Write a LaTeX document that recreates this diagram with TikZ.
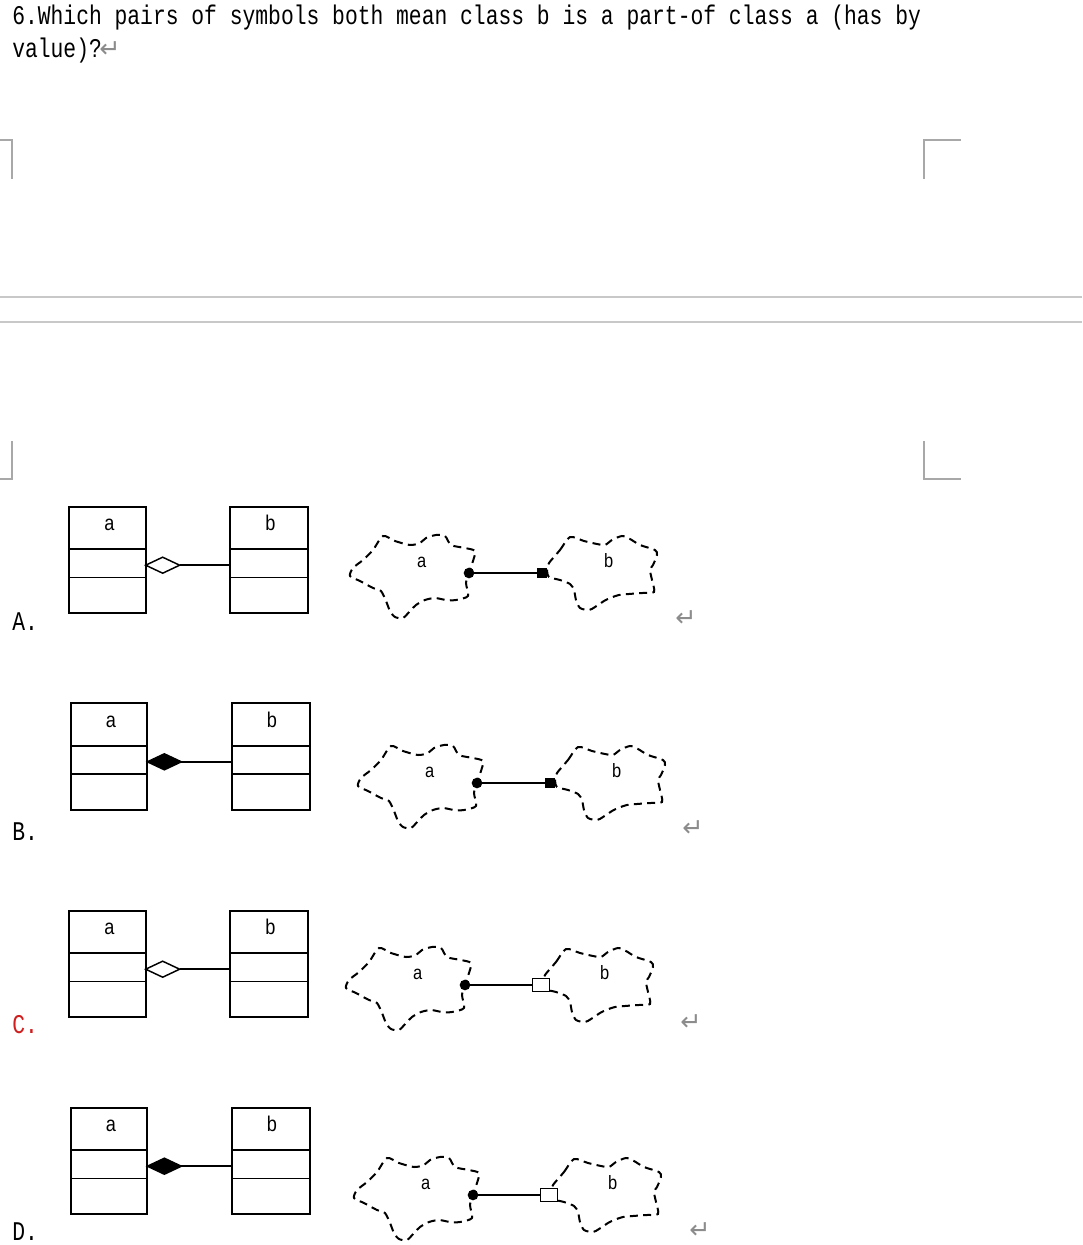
\documentclass[tikz,border=0pt]{standalone}
\usepackage{fontspec}
\usetikzlibrary{shapes.geometric,calc}
\newfontfamily\qfont[FakeStretch=0.79]{Liberation Mono}
\newfontfamily\lblfont[FakeStretch=0.85]{Liberation Sans}
\newfontfamily\symfont{DejaVu Sans}
\definecolor{retgray}{HTML}{8C8C8C}
\definecolor{rulegray}{HTML}{C8C8C8}
\definecolor{markgray}{HTML}{A8A8A8}
\definecolor{ansred}{HTML}{D01E1E}
\tikzset{
  qtext/.style={anchor=base west, inner sep=0, font=\qfont\fontsize{20.25pt}{24pt}\selectfont},
  ret/.style={inner sep=0, text=retgray, font=\symfont\fontsize{19pt}{21pt}\selectfont},
  classbox/.style={draw, line width=1.4pt, minimum width=57.5pt, minimum height=80pt, inner sep=0, outer sep=0, anchor=north west},
  classboxb/.style={classbox, minimum width=58.5pt},
  divider/.style={line width=1.4pt},
  clabel/.style={anchor=base, inner sep=0, font=\lblfont\fontsize{16pt}{18pt}\selectfont},
  cloudlbl/.style={anchor=base, inner sep=0, font=\lblfont\fontsize{14.5pt}{16pt}\selectfont},
  hdiam/.style={diamond, draw, fill=white, line width=1.1pt, minimum width=25.5pt, minimum height=12pt, inner sep=0, outer sep=0, anchor=west},
  fdiam/.style={hdiam, fill=black},
  conn/.style={line width=1.2pt},
  cloudline/.style={line width=1.5pt, dash pattern=on 6pt off 4pt},
  clouddot/.style={circle, fill=black, minimum size=8pt, inner sep=0, outer sep=0},
  fsq/.style={rectangle, fill=black, minimum width=8pt, minimum height=8pt, inner sep=0, outer sep=0, anchor=center},
  osq/.style={rectangle, draw, line width=1.2pt, fill=white, minimum width=12.5pt, minimum height=9.5pt, inner sep=0, outer sep=0, anchor=east},
  cornerline/.style={draw=markgray, line width=1.1pt},
  ruleline/.style={draw=rulegray, line width=1.1pt}
}
\newcommand{\classrow}[4]{%
  \node[classbox] (ca#1) at (#2,#3) {};
  \node[classboxb] (cb#1) at (#2+161.3,#3) {};
  \draw[divider] ($(ca#1.north west)+(0,42.6)$) -- ($(ca#1.north east)+(0,42.6)$);
  \draw[divider] ($(ca#1.north west)+(0,70.8)$) -- ($(ca#1.north east)+(0,70.8)$);
  \draw[divider] ($(cb#1.north west)+(0,42.6)$) -- ($(cb#1.north east)+(0,42.6)$);
  \draw[divider] ($(cb#1.north west)+(0,70.8)$) -- ($(cb#1.north east)+(0,70.8)$);
  \node[clabel] (la#1) at ($(ca#1.north)+(2,24)$) {a};
  \node[clabel] (lb#1) at ($(cb#1.north)+(1,24)$) {b};
  \node[#4] (dm#1) at ($(ca#1.north east)+(0,58.5)$) {};
  \draw[conn] (dm#1.east) -- (dm#1.east -| cb#1.west);
}
\newcommand{\cloudrow}[5]{%
  \begin{scope}[shift={(#2,#3)}]
    \draw[cloudline] plot[smooth cycle, tension=0.45] coordinates {
      (383,536) (395,541) (410,545) (420,543) (426,538) (436,535) (445,536)
      (451,545) (465,548) (475,551) (473,561) (469,573) (466,583) (468,596)
      (456,600) (446,600) (435,598) (425,600) (416,605) (410,611) (403,618)
      (395,617) (390,611) (386,601) (381,591) (373,588) (360,581) (350,576)
      (353,568) (363,560) (373,550)};
    \draw[cloudline] plot[smooth cycle, tension=0.45] coordinates {
      (549,563) (560,550) (570,537) (584,541) (597,544) (605,545) (612,540)
      (622,536) (630,539) (640,545) (655,550) (657,555) (653,565) (650,570)
      (652,580) (654,592) (642,593) (629,594) (619,595) (610,598) (604,601)
      (595,607) (589,610) (580,608) (576,600) (574,590) (570,584) (560,580)
      (549,577) (547,570)};
    \node[clouddot] (dot#1) at (469,573) {};
    \node[cloudlbl] (ta#1) at (421.7,567.3) {a};
    \node[cloudlbl] (tb#1) at (608.7,567.3) {b};
    \node[#4] (sq#1) at #5 {};
    \draw[conn] (dot#1) -- (sq#1.west);
  \end{scope}
}
\begin{document}
\begin{tikzpicture}[x=0.75pt, y=-0.75pt]
  \path[fill=white, use as bounding box] (0,0) rectangle (1082,1245);
  % question
  \node[qtext] (q1) at (12,25) {6.Which pairs of symbols both mean class b is a part-of class a (has by};
  \node[qtext] (q2) at (12,58) {value)?};
  \node[ret] (r0) at (110,50) {↵};
  % corner marks and rules
  \draw[cornerline] (0,140) -- (12,140) -- (12,179);
  \draw[cornerline] (924,179) -- (924,140) -- (961,140);
  \draw[cornerline] (12,441) -- (12,479) -- (0,479);
  \draw[cornerline] (924,441) -- (924,479) -- (961,479);
  \draw[ruleline] (0,297) -- (1082,297);
  \draw[ruleline] (0,322) -- (1082,322);
  % row labels
  \node[qtext] (labA) at (12,630) {A.};
  \node[qtext] (labB) at (12,840) {B.};
  \node[qtext, text=ansred] (labC) at (12,1033) {C.};
  \node[qtext] (labD) at (12,1240) {D.};
  % class diagrams
  \classrow{A}{69}{506.7}{hdiam}
  \classrow{B}{70.7}{703.3}{fdiam}
  \classrow{C}{69}{910.7}{hdiam}
  \classrow{D}{70.7}{1107.7}{fdiam}
  % cloud diagrams
  \cloudrow{A}{0}{0}{fsq}{(542,573)}
  \cloudrow{B}{8}{210}{fsq}{(542,573)}
  \cloudrow{C}{-4}{412}{osq}{(553.3,573)}
  \cloudrow{D}{4}{622}{osq}{(553.3,573)}
  % return marks
  \node[ret] (rA) at (686,619) {↵};
  \node[ret] (rB) at (693,829) {↵};
  \node[ret] (rC) at (691,1023) {↵};
  \node[ret] (rD) at (700,1231) {↵};
\end{tikzpicture}
\end{document}
